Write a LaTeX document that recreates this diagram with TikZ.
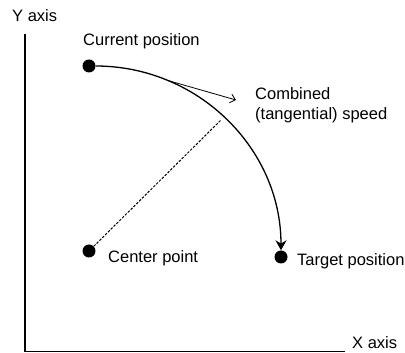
\documentclass[tikz,border=0pt]{standalone}
\usepackage{fontspec}
\setmainfont{Liberation Sans}
\usepackage{tikz}
\usetikzlibrary{arrows.meta}
\tikzset{
  dot/.style={circle,fill=black,inner sep=0pt,minimum size=13pt},
  lbl/.style={anchor=base west,inner sep=0pt,font=\fontsize{16.5}{19}\selectfont}
}

\begin{document}
\begin{tikzpicture}[x={(1pt,0pt)},y={(0pt,1pt)}]
					\useasboundingbox (0,0) rectangle (405,353);
					% axes
					\coordinate (origin) at (25,1.5);
					\coordinate (ytop) at (25,319);
					\coordinate (xend) at (345,1.5);
					\draw[line width=1.5pt] (ytop) -- (origin) -- (xend);
					\node[lbl] (ylbl) at (12,331) {Y axis};
					\node[lbl] (xlbl) at (352,4) {X axis};
					
					% points
					\node[dot] (cur) at (89,287) {};
					\node[dot] (ctr) at (89,102) {};
					\node[dot] (tgt) at (281,96) {};
					\node[lbl] (curlbl) at (83,307) {Current position};
					\node[lbl] (ctrlbl) at (108,90) {Center point};
					\node[lbl] (tgtlbl) at (297,87) {Target position};
					\node[lbl] (spdlbl) at (255,253) {Combined};
					\node[lbl] (spdlbl2) at (255,233) {(tangential) speed};
					
					\draw[-{Stealth[length=10pt,width=11pt]},line width=1.3pt] (cur) to[out=0,in=90] coordinate[pos=0.25] (touch) (tgt);
					\coordinate (speed) at (236,253);
					\draw[-{Straight Barb[length=5pt,width=9pt]},line width=0.8pt] (touch) -- (speed);
					\coordinate (rim) at (221,233);
					\draw[dash pattern=on 2.5pt off 1.5pt,line width=1pt] (ctr) -- (rim);
				\end{tikzpicture}
\end{document}
